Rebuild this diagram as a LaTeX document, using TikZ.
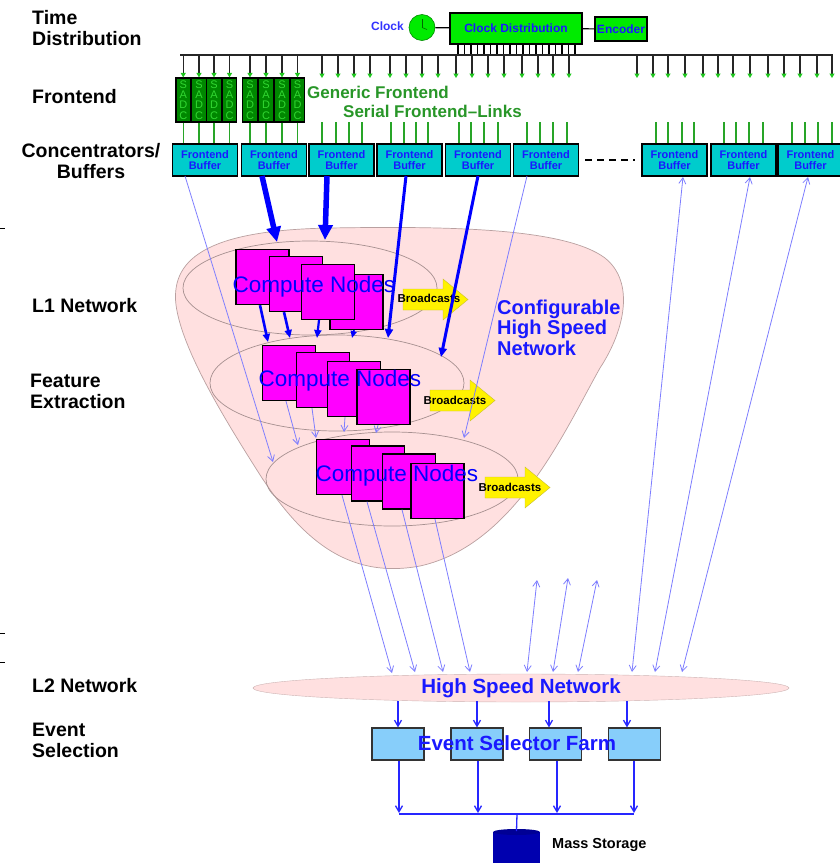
\documentclass[tikz,border=0pt]{standalone}
\usepackage{fontspec}
\setmainfont{Liberation Sans}
\usetikzlibrary{arrows.meta,shapes.geometric}
\definecolor{bufcyan}{RGB}{0,204,204}
\definecolor{sadcgreen}{RGB}{0,135,0}
\definecolor{sadcletter}{RGB}{50,215,50}
\definecolor{brightgreen}{RGB}{0,235,0}
\definecolor{tipgreen}{RGB}{30,200,30}
\definecolor{linkgreen}{RGB}{40,165,40}
\definecolor{txtgreen}{RGB}{40,150,40}
\definecolor{bowlpink}{RGB}{255,224,224}
\definecolor{bowledge}{RGB}{185,160,160}
\definecolor{paleblue}{RGB}{125,125,255}
\definecolor{deepblue}{RGB}{0,0,255}
\definecolor{nodemagenta}{RGB}{255,0,255}
\definecolor{farmblue}{RGB}{135,206,250}
\definecolor{storeblue}{RGB}{0,0,175}
\definecolor{txtblue}{RGB}{25,25,255}
\begin{document}
\begin{tikzpicture}[x=1pt,y=-1pt,
  rowlabel/.style={font=\fontsize{19.5}{21}\selectfont\bfseries, align=left, anchor=west, inner sep=0},
  sadc/.style={draw=black, line width=1.2, fill=sadcgreen, minimum width=14.5, minimum height=44, inner sep=0,
    text=sadcletter, font=\fontsize{11}{10.2}\selectfont, align=center},
  fbuf/.style={draw=black, line width=1.3, fill=bufcyan, minimum width=65, minimum height=32, inner sep=0,
    text=txtblue, font=\fontsize{11}{11}\selectfont\bfseries, align=center},
  greenbox/.style={draw=black, line width=1.3, fill=brightgreen, inner sep=0,
    text=txtblue, font=\fontsize{12}{12}\selectfont\bfseries},
  cnode/.style={draw=black, line width=1.3, fill=nodemagenta, minimum width=53, minimum height=55, inner sep=0},
  cntext/.style={text=deepblue, font=\fontsize{22.5}{22.5}\selectfont, inner sep=0},
  layer/.style={ellipse, draw=bowledge!90!black, line width=0.7, inner sep=0},
  efarm/.style={draw=black!80, line width=1.2, fill=farmblue, minimum width=52, minimum height=32, inner sep=0},
  bctext/.style={font=\fontsize{11.5}{11.5}\selectfont\bfseries, inner sep=0},
  drop/.style={line width=1.2, black!85, -{Triangle[length=4.5pt,width=5pt,color=tipgreen]}},
  glink/.style={linkgreen, line width=1.1},
  thinline/.style={paleblue, line width=0.8, -{Straight Barb[length=6pt,width=7pt]}},
  thinboth/.style={paleblue, line width=0.8, {Straight Barb[length=6pt,width=7pt]}-{Straight Barb[length=6pt,width=7pt]}},
  fatline/.style={deepblue, line width=5.5, -{Triangle[length=15pt,width=14pt]}},
  midline/.style={deepblue, line width=3, -{Triangle[length=9pt,width=8pt]}},
  farmline/.style={color=deepblue!85!white, line width=1.3},
  farmarrow/.style={farmline, -{Straight Barb[length=6pt,width=7pt]}},
  bcast/.pic={\path[fill=yellow, draw=yellow!75!black, line width=0.4]
      (0,-10.5) -- (40,-10.5) -- (40,-20.5) -- (65,0) -- (40,20.5) -- (40,10.5) -- (0,10.5) -- cycle;}
]
\useasboundingbox (0,0) rectangle (839,863);

% ---------- row labels ----------
\node[rowlabel] (lblTime) at (32,28.5) {Time\\Distribution};
\node[rowlabel] (lblFront) at (32,97) {Frontend};
\node[rowlabel, align=center, anchor=center] (lblConc) at (91,161.5) {Concentrators/\\Buffers};
\node[rowlabel] (lblL1) at (32,306) {L1 Network};
\node[rowlabel] (lblFeat) at (30,391.5) {Feature\\Extraction};
\node[rowlabel] (lblL2) at (32,686) {L2 Network};
\node[rowlabel] (lblEvt) at (32,740.5) {Event\\Selection};
\coordinate (tickA) at (0,228); \coordinate (tickB) at (0,633); \coordinate (tickC) at (0,662);
\foreach \t in {tickA,tickB,tickC} \draw[line width=1] (\t) -- ++(5,0);

% ---------- time distribution ----------
\node[circle, fill=brightgreen, draw=green!55!black, line width=0.6, minimum size=26, inner sep=0] (clk) at (422,27.5) {};
\draw[green!40!black, line width=0.6] (clk.center) -- ++(0,-9);
\draw[green!40!black, line width=0.6] (clk.center) -- ++(5,2);
\node[anchor=east, text=blue!80!white, font=\fontsize{12}{12}\selectfont\bfseries, inner sep=0] (clklbl) at (404,26) {Clock};
\node[greenbox, minimum width=132, minimum height=31] (cdist) at (516,28.5) {Clock Distribution};
\node[greenbox, minimum width=52, minimum height=24] (enc) at (621,29) {Encoder};
\draw[line width=1.2] (clk) -- (cdist);
\draw[line width=1.2] (cdist) -- (enc);
\foreach \i in {0,...,18} \draw[line width=1.1] (458+\i*6.5,44) -- ++(0,11);
\coordinate (busL) at (180,55); \coordinate (busR) at (833,55);
\draw[line width=1.3, black!85] (busL) -- (busR);

% ---------- frontend ----------
\foreach \i/\x in {1/183.25,2/199,3/214,4/229.5,5/250,6/266,7/282,8/297.5}
  \node[sadc] (sadc\i) at (\x,100) {S\\A\\D\\C};
\foreach \i in {1,...,8} \draw[drop] (sadc\i.north |- busL) -- (sadc\i.north);
\foreach \x in {322,338,354,370,390,406,422,438,456,472,488,504,522,538,553,569,
                637,653,668,685,703,718,733,750,768,784,800,817,832}
  \draw[drop] (\x,55) -- (\x,78);
\node[anchor=west, text=txtgreen, font=\fontsize{17}{17}\selectfont\bfseries, inner sep=0] (genfe) at (307,92) {Generic Frontend};
\node[anchor=west, text=txtgreen, font=\fontsize{17}{17}\selectfont\bfseries, inner sep=0] (serfe) at (343,111) {Serial Frontend–Links};

% ---------- frontend buffers ----------
\foreach \i/\x in {1/205,2/274,3/341.5,4/409.5,5/478,6/546,7/674.5,8/743.5,9/810.5}
  \node[fbuf] (bf\i) at (\x,160) {Frontend\\Buffer};
\foreach \i in {1,...,4} \draw[glink] (sadc\i.south) -- (sadc\i.south |- bf1.north);
\foreach \i in {5,...,8} \draw[glink] (sadc\i.south) -- (sadc\i.south |- bf2.north);
\foreach \b/\xs in {3/{322,336,349,362},4/{391,404,416,428},5/{459,471,484,498},6/{527,540,553,567},
                    7/{656,668,682,694},8/{724,736,749,763},9/{792,805,818,832}}
  \foreach \x in \xs \draw[glink] (\x,122) -- (\x,122 |- bf\b.north);
\draw[line width=1.2, dash pattern=on 7pt off 5pt, shorten <=6pt, shorten >=6pt] (bf6.east) -- (bf7.west);

% ---------- L1 network bowl ----------
\path[fill=bowlpink, draw=bowledge, line width=0.7]
  (176,305) .. controls (170,255) and (215,230) .. (330,228)
  .. controls (450,226) and (565,228) .. (605,258)
  .. controls (635,282) and (625,330) .. (600,368)
  .. controls (565,430) and (515,545) .. (420,566)
  .. controls (345,580) and (300,535) .. (262,478)
  .. controls (225,420) and (182,350) .. (176,305) -- cycle;
\node[layer, minimum width=254, minimum height=94] (layTop) at (310,288) {};
\node[layer, minimum width=254, minimum height=96] (layMid) at (337,383) {};
\node[layer, minimum width=252, minimum height=94] (layBot) at (392,479) {};

% compute node stacks
\node[cnode] (t4) at (356.5,302) {};
\node[cnode] (t1) at (262.5,277) {};
\node[cnode] (t2) at (296,284) {};
\node[cnode] (t3) at (328,292) {};
\node[cntext] (tText) at (314,287) {Compute Nodes};

\node[cnode] (m1) at (289,373) {};
\node[cnode] (m2) at (323,380) {};
\node[cnode] (m3) at (354,389) {};
\node[cnode] (m4) at (383.5,397) {};
\node[cntext] (mText) at (340,381) {Compute Nodes};

\node[cnode] (b1) at (343,467) {};
\node[cnode] (b2) at (378,473.5) {};
\node[cnode] (b3) at (409,481.5) {};
\node[cnode] (b4) at (437.5,491) {};
\node[cntext] (bText) at (397,476) {Compute Nodes};

% broadcasts
\pic at (403,299.5) {bcast};
\pic at (430,400.5) {bcast};
\pic at (485,487.5) {bcast};
\node[bctext] (bcA) at (429,298) {Broadcasts};
\node[bctext] (bcB) at (455,400) {Broadcasts};
\node[bctext] (bcC) at (510,487) {Broadcasts};

\node[anchor=west, align=left, text=txtblue, font=\fontsize{20}{20.5}\selectfont\bfseries, inner sep=0] (cfg) at (497,327.5)
  {Configurable\\High Speed\\Network};

% ---------- links into and through the L1 network ----------
\coordinate (s1) at (185,176);  \coordinate (e1) at (273,462);
\coordinate (s2) at (262,176);  \coordinate (e2) at (277,242);
\coordinate (s3) at (327,176);  \coordinate (e3) at (325,240);
\coordinate (s4) at (406,176);  \coordinate (e4) at (388,338);
\coordinate (s5) at (478,176);  \coordinate (e5) at (441,357);
\coordinate (s6) at (527,176);  \coordinate (e6) at (464,438);
\draw[thinline] (s1) -- (e1);
\draw[fatline] (s2) -- (e2);
\draw[fatline] (s3) -- (e3);
\draw[midline] (s4) -- (e4);
\draw[midline] (s5) -- (e5);
\draw[thinline] (s6) -- (e6);

% top stack to middle layer
\coordinate (tm1) at (268,342); \coordinate (tm2) at (290,338);
\coordinate (tm3) at (317,338); \coordinate (tm4) at (352,338);
\draw[deepblue, line width=2.6, -{Triangle[length=8pt,width=7pt]}] (t1.south -| 260,0) -- (tm1);
\draw[deepblue, line width=2.6, -{Triangle[length=8pt,width=7pt]}] (t2.south -| 284,0) -- (tm2);
\draw[deepblue, line width=2.2, -{Triangle[length=8pt,width=7pt]}] (t3.south -| 319,0) -- (tm3);
\draw[deepblue, line width=1.8, -{Triangle[length=7pt,width=6pt]}] (t4.south -| 354,0) -- (tm4);

% middle stack to bottom layer
\coordinate (mb1) at (298,445); \coordinate (mb2) at (316,438);
\coordinate (mb3) at (344,432); \coordinate (mb4) at (376,433);
\draw[thinline] (m1.south -| 286,0) -- (mb1);
\draw[thinline] (m2.south -| 312,0) -- (mb2);
\draw[thinline] (m3.south -| 345,0) -- (mb3);
\draw[thinline] (m4.south -| 378,0) -- (mb4);

% ---------- L2 network ----------
\node[ellipse, fill=bowlpink, draw=bowlpink!80!black, line width=0.4, minimum width=536, minimum height=28, inner sep=0,
      text=txtblue, font=\fontsize{20.5}{20.5}\selectfont\bfseries] (l2) at (521,688) {High Speed Network};

\coordinate (n1) at (392,673); \coordinate (n2) at (415,672);
\coordinate (n3) at (443,672); \coordinate (n4) at (470,672);
\draw[thinline] (b1.south -| 342,0) -- (n1);
\draw[thinline] (b2.south -| 367,0) -- (n2);
\draw[thinline] (b3.south -| 402,0) -- (n3);
\draw[thinline] (b4.south -| 435,0) -- (n4);

\coordinate (u1) at (537,580); \coordinate (v1) at (527,672);
\coordinate (u2) at (568,578); \coordinate (v2) at (553,672);
\coordinate (u3) at (597,580); \coordinate (v3) at (578,672);
\draw[thinboth] (u1) -- (v1);
\draw[thinboth] (u2) -- (v2);
\draw[thinboth] (u3) -- (v3);

\coordinate (r1) at (683,177); \coordinate (w1) at (632,672);
\coordinate (r2) at (750,177); \coordinate (w2) at (655,672);
\coordinate (r3) at (808,177); \coordinate (w3) at (682,672);
\draw[thinboth] (r1) -- (w1);
\draw[thinboth] (r2) -- (w2);
\draw[thinboth] (r3) -- (w3);

% ---------- event selection ----------
\node[efarm] (ef1) at (398,744) {};
\node[efarm] (ef2) at (477,744) {};
\node[efarm] (ef3) at (555.5,744) {};
\node[efarm] (ef4) at (634.5,744) {};
\node[text=txtblue, font=\fontsize{20.5}{20.5}\selectfont\bfseries, inner sep=0] (efText) at (517,743) {Event Selector Farm};

\foreach \i/\x in {1/398,2/477,3/549,4/627}
  \draw[farmarrow] (\x,701) -- (\x,0 |- ef\i.north);

\coordinate (hubL) at (399,814); \coordinate (hubR) at (634,814); \coordinate (hub) at (517,814);
\foreach \i/\x in {1/399,2/478,3/557,4/634}
  \draw[farmarrow] (\x,0 |- ef\i.south) -- (\x,813);
\draw[farmline] (hubL) -- (hubR);

% mass storage
\coordinate (ms) at (516.5,831);
\fill[storeblue] (493,832) rectangle (540,870);
\fill[storeblue!85!black] (ms) ++(0,1) ellipse [x radius=23.5, y radius=3];
\draw[farmline] (hub) -- (ms);
\node[anchor=west, font=\fontsize{14.5}{14.5}\selectfont\bfseries, inner sep=0] (mslbl) at (552,845) {Mass Storage};

\end{tikzpicture}
\end{document}
